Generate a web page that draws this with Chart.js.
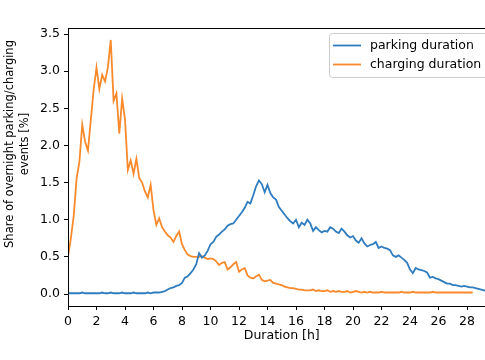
<!DOCTYPE html>
<html>
<head>
<meta charset="utf-8">
<script src="https://cdn.jsdelivr.net/npm/chart.js@4.4.1/dist/chart.umd.min.js"></script>
<style>
    html, body { margin: 0; padding: 0; background: #fff; overflow: hidden; }
    #wrap { width: 505px; height: 360px; }
</style>
</head>
<body>
<div id="wrap"><canvas id="duration-chart" width="505" height="360"></canvas></div>
<script>
// Duration grid in hours (one row per hour)
const hours = [
    0.0, 0.2, 0.4, 0.6, 0.8,
    1.0, 1.2, 1.4, 1.6, 1.8,
    2.0, 2.2, 2.4, 2.6, 2.8,
    3.0, 3.2, 3.4, 3.6, 3.8,
    4.0, 4.2, 4.4, 4.6, 4.8,
    5.0, 5.2, 5.4, 5.6, 5.8,
    6.0, 6.2, 6.4, 6.6, 6.8,
    7.0, 7.2, 7.4, 7.6, 7.8,
    8.0, 8.2, 8.4, 8.6, 8.8,
    9.0, 9.2, 9.4, 9.6, 9.8,
    10.0, 10.2, 10.4, 10.6, 10.8,
    11.0, 11.2, 11.4, 11.6, 11.8,
    12.0, 12.2, 12.4, 12.6, 12.8,
    13.0, 13.2, 13.4, 13.6, 13.8,
    14.0, 14.2, 14.4, 14.6, 14.8,
    15.0, 15.2, 15.4, 15.6, 15.8,
    16.0, 16.2, 16.4, 16.6, 16.8,
    17.0, 17.2, 17.4, 17.6, 17.8,
    18.0, 18.2, 18.4, 18.6, 18.8,
    19.0, 19.2, 19.4, 19.6, 19.8,
    20.0, 20.2, 20.4, 20.6, 20.8,
    21.0, 21.2, 21.4, 21.6, 21.8,
    22.0, 22.2, 22.4, 22.6, 22.8,
    23.0, 23.2, 23.4, 23.6, 23.8,
    24.0, 24.2, 24.4, 24.6, 24.8,
    25.0, 25.2, 25.4, 25.6, 25.8,
    26.0, 26.2, 26.4, 26.6, 26.8,
    27.0, 27.2, 27.4, 27.6, 27.8,
    28.0, 28.2, 28.4, 28.6, 28.8,
    29.0, 29.2, 29.4
];

// Share of overnight parking events [%]
const parkingShare = [
    0.01, 0.01, 0.01, 0.01, 0.01,
    0.02, 0.01, 0.01, 0.01, 0.01,
    0.01, 0.01, 0.02, 0.01, 0.01,
    0.02, 0.01, 0.01, 0.01, 0.02,
    0.01, 0.01, 0.01, 0.02, 0.01,
    0.01, 0.01, 0.01, 0.02, 0.01,
    0.02, 0.02, 0.02, 0.03, 0.04,
    0.06, 0.08, 0.09, 0.11, 0.12,
    0.15, 0.22, 0.24, 0.28, 0.33,
    0.40, 0.55, 0.49, 0.52, 0.58,
    0.67, 0.70, 0.77, 0.80, 0.84,
    0.87, 0.92, 0.94, 0.95, 1.00,
    1.05, 1.10, 1.16, 1.24, 1.22,
    1.33, 1.45, 1.53, 1.48, 1.37,
    1.47, 1.36, 1.30, 1.27, 1.17,
    1.12, 1.07, 1.02, 0.98, 0.95,
    1.00, 0.90, 0.96, 0.93, 1.00,
    0.95, 0.85, 0.90, 0.86, 0.83,
    0.85, 0.84, 0.90, 0.88, 0.84,
    0.82, 0.88, 0.84, 0.79, 0.76,
    0.78, 0.72, 0.69, 0.75, 0.68,
    0.64, 0.66, 0.67, 0.70, 0.62,
    0.64, 0.62, 0.61, 0.59, 0.52,
    0.50, 0.52, 0.49, 0.46, 0.42,
    0.33, 0.28, 0.35, 0.33, 0.32,
    0.31, 0.29, 0.22, 0.23, 0.21,
    0.20, 0.18, 0.16, 0.14, 0.14,
    0.12, 0.12, 0.11, 0.10, 0.11,
    0.10, 0.09, 0.09, 0.08, 0.07,
    0.06, 0.05, 0.04
];

// Share of overnight charging events [%] (ends at 28.4 h)
const chargingShare = [
    0.50, 0.75, 1.05, 1.55, 1.78,
    2.28, 2.05, 1.93, 2.34, 2.75,
    3.05, 2.76, 2.95, 2.86, 3.05,
    3.42, 2.60, 2.70, 2.16, 2.63,
    2.35, 1.67, 1.80, 1.62, 1.82,
    1.56, 1.50, 1.38, 1.30, 1.47,
    1.13, 0.93, 1.02, 0.90, 0.84,
    0.79, 0.76, 0.70, 0.78, 0.84,
    0.67, 0.59, 0.53, 0.51, 0.50,
    0.50, 0.50, 0.51, 0.49, 0.47,
    0.48, 0.47, 0.44, 0.39, 0.42,
    0.43, 0.33, 0.36, 0.40, 0.43,
    0.30, 0.33, 0.35, 0.25, 0.22,
    0.21, 0.24, 0.26, 0.19, 0.17,
    0.18, 0.19, 0.15, 0.14, 0.13,
    0.12, 0.10, 0.09, 0.08, 0.08,
    0.07, 0.06, 0.06, 0.05, 0.05,
    0.05, 0.06, 0.04, 0.05, 0.04,
    0.04, 0.05, 0.03, 0.04, 0.03,
    0.04, 0.03, 0.03, 0.04, 0.02,
    0.03, 0.04, 0.03, 0.02, 0.03,
    0.02, 0.03, 0.02, 0.02, 0.02,
    0.03, 0.02, 0.02, 0.02, 0.02,
    0.02, 0.02, 0.03, 0.02, 0.02,
    0.02, 0.03, 0.02, 0.02, 0.02,
    0.02, 0.02, 0.02, 0.03, 0.02,
    0.02, 0.02, 0.02, 0.02, 0.02,
    0.02, 0.02, 0.02, 0.02, 0.02,
    0.02, 0.02, 0.02
];

const xTicks = [0, 2, 4, 6, 8, 10, 12, 14, 16, 18, 20, 22, 24, 26, 28];
const yTicks = [0.0, 0.5, 1.0, 1.5, 2.0, 2.5, 3.0, 3.5];

const seriesNames = ["parking duration", "charging duration"];
const seriesColors = ["#2f7cbf", "#f88a2c"];
const yTitleLines = ["Share of overnight parking/charging", "events [%]"];

const FONT = "DejaVu Sans";
const FONT_SIZE = 12.5;

function toPoints(values) {
    return values.map((v, i) => ({ x: hours[i], y: v }));
}

// matplotlib style frame, legend box and y label
const framePlugin = {
    id: "frame",
    afterDraw(chart) {
        const ctx = chart.ctx;
        const a = chart.chartArea;
        ctx.save();
        ctx.strokeStyle = "#000";
        ctx.lineWidth = 1;
        ctx.strokeRect(a.left + 0.5, a.top + 0.5, a.right - a.left, a.bottom - a.top);

        // legend
        const lx = 329.5, ly = 33.5, lw = 190, lh = 44;
        ctx.fillStyle = "rgba(255,255,255,0.85)";
        ctx.strokeStyle = "#cccccc";
        ctx.beginPath();
        ctx.roundRect(lx, ly, lw, lh, 3);
        ctx.fill();
        ctx.stroke();
        ctx.font = FONT_SIZE + "px '" + FONT + "'";
        ctx.textBaseline = "middle";
        seriesNames.forEach((name, i) => {
            const y = 45.5 + i * 19;
            ctx.strokeStyle = seriesColors[i];
            ctx.lineWidth = 1.8;
            ctx.beginPath();
            ctx.moveTo(333, y);
            ctx.lineTo(361, y);
            ctx.stroke();
            ctx.fillStyle = "#000";
            ctx.fillText(name, 370, y + 0.5);
        });

        // y axis label, two centred lines
        ctx.translate(0, 144);
        ctx.rotate(-Math.PI / 2);
        ctx.textAlign = "center";
        ctx.fillStyle = "#000";
        ctx.font = "11.5px '" + FONT + "'";
        ctx.fillText(yTitleLines[0], 0, 10);
        ctx.fillText(yTitleLines[1], 0, 25);
        ctx.restore();
    }
};

new Chart(document.getElementById("duration-chart"), {
    type: "line",
    data: {
        datasets: [
            {
                label: seriesNames[0],
                data: toPoints(parkingShare),
                borderColor: seriesColors[0],
                borderWidth: 1.8,
                pointRadius: 0,
                tension: 0
            },
            {
                label: seriesNames[1],
                data: toPoints(chargingShare),
                borderColor: seriesColors[1],
                borderWidth: 1.8,
                pointRadius: 0,
                tension: 0
            }
        ]
    },
    options: {
        responsive: false,
        animation: false,
        layout: { padding: { left: 0, top: 28, right: 9.5, bottom: 17 } },
        plugins: {
            legend: { display: false },
            tooltip: { enabled: false }
        },
        scales: {
            x: {
                type: "linear",
                min: 0,
                max: 30,
                afterBuildTicks: scale => { scale.ticks = xTicks.map(v => ({ value: v })); },
                afterFit: scale => { scale.height = 37; },
                grid: { drawOnChartArea: false, drawTicks: true, tickLength: 4, color: "#000" },
                border: { display: true, color: "#000" },
                ticks: { color: "#000", font: { family: FONT, size: FONT_SIZE }, padding: 4, maxRotation: 0 },
                title: {
                    display: true,
                    text: "Duration [h]",
                    color: "#000",
                    font: { family: FONT, size: FONT_SIZE },
                    padding: { top: 0, bottom: 0 }
                }
            },
            y: {
                min: -0.1615,
                max: 3.581,
                afterBuildTicks: scale => { scale.ticks = yTicks.map(v => ({ value: v })); },
                afterFit: scale => { scale.width = 68; },
                grid: { drawOnChartArea: false, drawTicks: true, tickLength: 4, color: "#000" },
                border: { display: true, color: "#000" },
                ticks: {
                    color: "#000",
                    font: { family: FONT, size: FONT_SIZE },
                    padding: 4,
                    callback: v => v.toFixed(1)
                }
            }
        }
    },
    plugins: [framePlugin]
});
</script>
</body>
</html>
